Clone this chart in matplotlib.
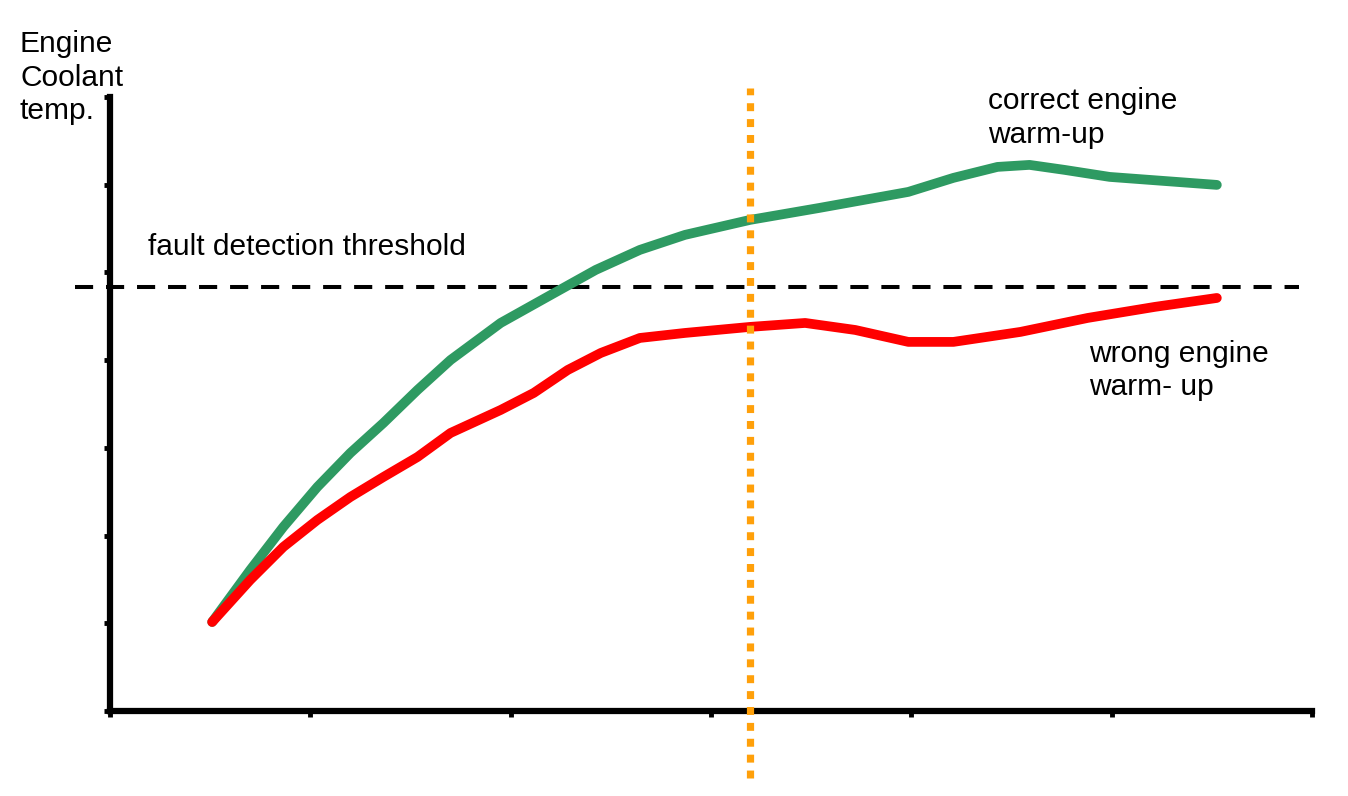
import matplotlib
matplotlib.use("Agg")
import matplotlib.pyplot as plt

plt.rcParams["font.family"] = ["Liberation Sans", "DejaVu Sans"]

# time axis (arbitrary units, one tick = 1), temperature in tick units
t_correct = [0.51, 0.70, 0.865, 1.035, 1.20, 1.365, 1.535, 1.70, 1.95, 2.20,
             2.425, 2.645, 2.87, 3.195, 3.54, 3.985, 4.21, 4.43, 4.59, 4.765,
             4.99, 5.325, 5.525]
temp_correct = [1.015, 1.608, 2.098, 2.554, 2.942, 3.284, 3.660, 4.002, 4.424,
                4.743, 5.029, 5.257, 5.428, 5.599, 5.735, 5.918, 6.078, 6.203,
                6.226, 6.169, 6.089, 6.032, 5.998]

t_wrong = [0.51, 0.70, 0.865, 1.035, 1.20, 1.365, 1.535, 1.70, 1.95, 2.115,
           2.285, 2.45, 2.645, 2.87, 3.195, 3.47, 3.72, 3.985, 4.21, 4.545,
           4.88, 5.215, 5.525]
temp_wrong = [1.015, 1.494, 1.870, 2.178, 2.440, 2.668, 2.896, 3.170, 3.432,
              3.626, 3.888, 4.082, 4.253, 4.310, 4.379, 4.424, 4.344, 4.208,
              4.208, 4.322, 4.481, 4.607, 4.709]

threshold = 4.83
check_time = 3.195
x_ticks = [0, 1, 2, 3, 4, 5, 6]
y_ticks = [0, 1, 2, 3, 4, 5, 6, 7]

GREEN = "#2e9a62"
RED = "#ff0000"
ORANGE = "#ffa00a"

fig = plt.figure(figsize=(13.48, 7.96), dpi=100)
ax = fig.add_axes([110 / 1348, 85 / 796, 1202 / 1348, 614 / 796])
ax.set_xlim(0, 6)
ax.set_ylim(0, 7)

ax.plot([-0.175, 5.935], [threshold, threshold], color="black", lw=2.9,
        linestyle=(0, (4.5, 3.2)), clip_on=False, zorder=2)
ax.plot(t_correct, temp_correct, color=GREEN, lw=7,
        solid_capstyle="round", solid_joinstyle="round", zorder=3)
ax.plot(t_wrong, temp_wrong, color=RED, lw=7,
        solid_capstyle="round", solid_joinstyle="round", zorder=3)
ax.plot([check_time, check_time], [-0.76, 7.1], color=ORANGE, lw=5.2,
        linestyle=(0, (1.1, 1.1)), clip_on=False, zorder=4)

ax.set_xticks(x_ticks)
ax.set_yticks(y_ticks)
ax.set_xticklabels([])
ax.set_yticklabels([])
ax.tick_params(direction="out", length=4, width=3.5, color="black")
ax.spines[["top", "right"]].set_visible(False)
ax.spines[["left", "bottom"]].set_linewidth(4.5)

fs = 21.5
ls = 1.25
fig.text(20 / 1348, 1 - 30 / 796, "Engine\nCoolant\ntemp.", fontsize=fs,
         ha="left", va="top", linespacing=ls)
ax.text(0.19, 5.29, "fault detection threshold", fontsize=fs,
        ha="left", va="center")
ax.text(4.385, 6.76, "correct engine\nwarm-up", fontsize=fs,
        ha="left", va="center", linespacing=ls)
ax.text(4.885, 3.88, "wrong engine\nwarm- up", fontsize=fs,
        ha="left", va="center", linespacing=ls)

fig.savefig("out.png", dpi=100)
